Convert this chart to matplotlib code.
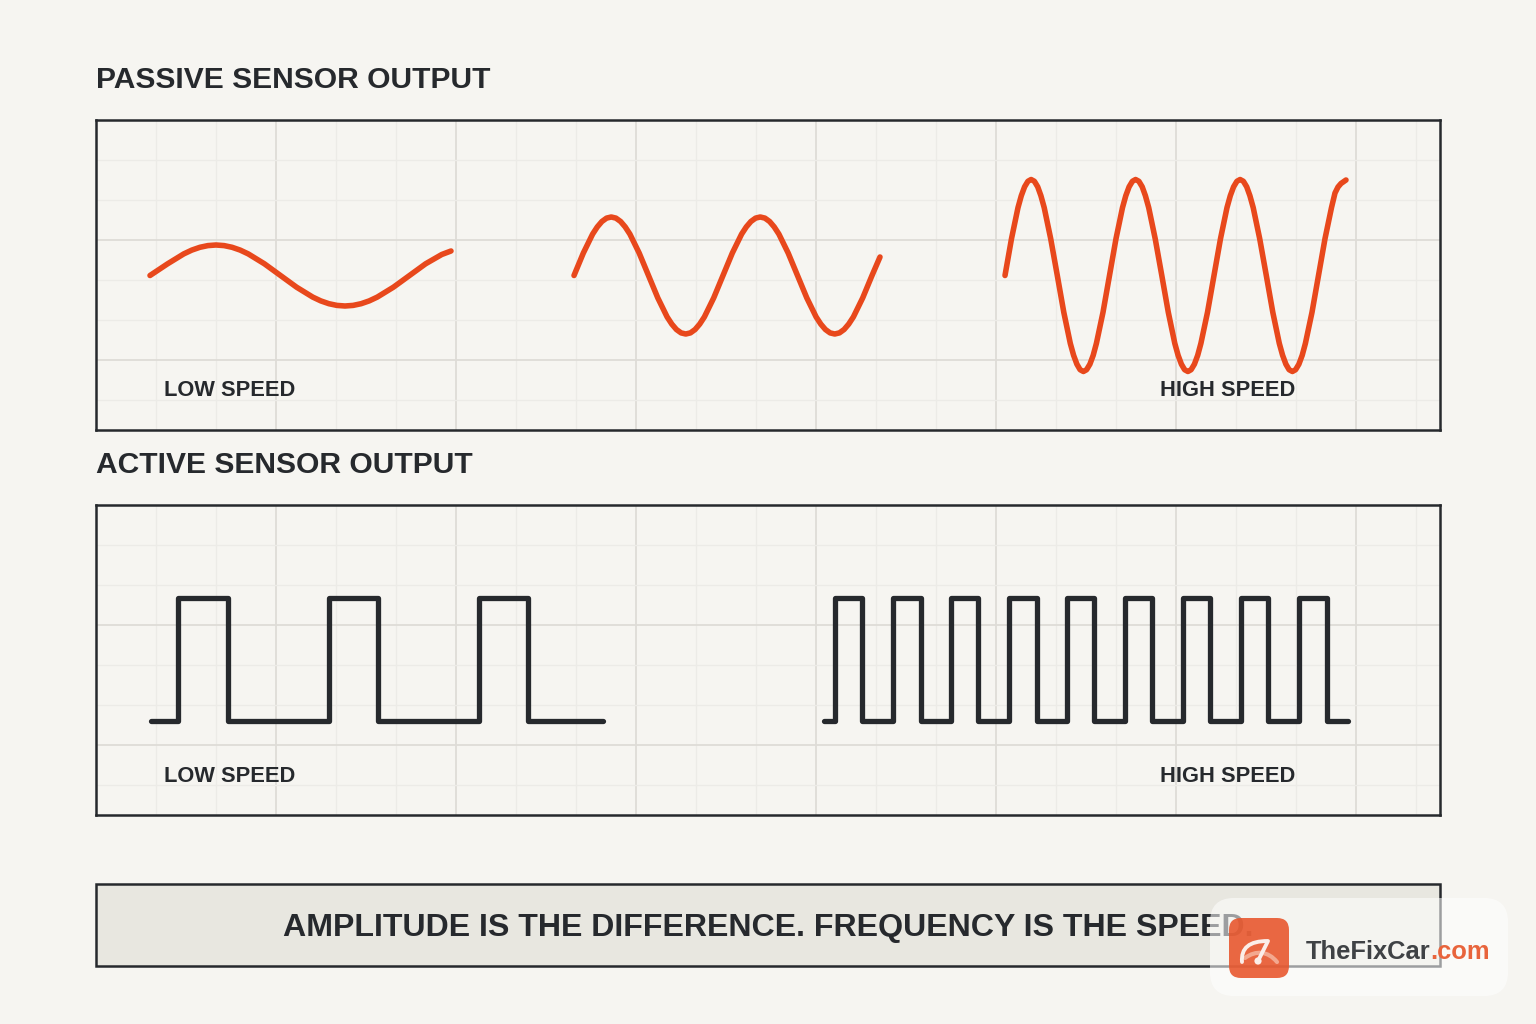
import matplotlib
matplotlib.use("Agg")
import matplotlib.pyplot as plt
from matplotlib.patches import FancyBboxPatch, PathPatch, Rectangle, Circle
from matplotlib.path import Path

plt.rcParams['font.family'] = ['Liberation Sans', 'DejaVu Sans']

BG = "#f6f5f1"
DARK = "#26292d"
ORANGE = "#e8481c"
W, H = 1536, 1024

# passive sensor traces (x px, y px)
low_x = [150, 167.6, 183.75, 191.8, 199.9, 207.9, 216, 224.1, 232.1, 240.2, 248.25, 264.4, 280.5, 296.6,
         312.75, 320.8, 328.9, 336.9, 345, 353.1, 361.1, 369.2, 377.25, 393.4, 409.5, 425.6, 441.75, 451]
low_y = [275.5, 263.8, 253.9, 250.1, 247.3, 245.6, 245, 245.6, 247.3, 250.1, 253.9, 263.8, 275.5, 287.2,
         297.1, 300.9, 303.7, 305.4, 306, 305.4, 303.7, 300.9, 297.1, 287.2, 275.5, 263.8, 254.5, 251]

mid_x = [574, 583.3, 592.6, 597.3, 601.9, 606.6, 611.25, 615.9, 620.6, 625.2, 629.9, 639.2,
         648.5, 657.8, 667.1, 671.8, 676.4, 681.1, 685.75, 690.4, 695.1, 699.7, 704.4, 713.7,
         723, 732.3, 741.6, 746.3, 750.9, 755.6, 760.25, 764.9, 769.6, 774.2, 778.9, 788.2,
         797.5, 806.8, 816.1, 820.8, 825.4, 830.1, 834.75, 839.4, 844.1, 848.7, 853.4, 862.7,
         872, 880]
mid_y = [275.5, 253.1, 234.1, 226.9, 221.5, 218.1, 217, 218.1, 221.5, 226.9, 234.1, 253.1,
         275.5, 297.9, 316.9, 324.1, 329.5, 332.9, 334, 332.9, 329.5, 324.1, 316.9, 297.9,
         275.5, 253.1, 234.1, 226.9, 221.5, 218.1, 217, 218.1, 221.5, 226.9, 234.1, 253.1,
         275.5, 297.9, 316.9, 324.1, 329.5, 332.9, 334, 332.9, 329.5, 324.1, 316.9, 297.9,
         275.5, 257]

high_x = [1005, 1011.5, 1018, 1021.3, 1024.6, 1027.9, 1031.1, 1034.4, 1037.7, 1040.9, 1044.2, 1050.7,
          1057.3, 1063.8, 1070.3, 1073.6, 1076.9, 1080.1, 1083.4, 1086.6, 1089.9, 1093.2, 1096.4, 1103,
          1109.5, 1116, 1122.5, 1125.8, 1129.1, 1132.4, 1135.6, 1138.9, 1142.2, 1145.4, 1148.7, 1155.2,
          1161.8, 1168.3, 1174.8, 1178.1, 1181.4, 1184.6, 1187.9, 1191.1, 1194.4, 1197.7, 1200.9, 1207.5,
          1214, 1220.5, 1227, 1230.3, 1233.6, 1236.9, 1240.1, 1243.4, 1246.7, 1249.9, 1253.2, 1259.7,
          1266.3, 1272.8, 1279.3, 1282.6, 1285.9, 1289.1, 1292.4, 1295.6, 1298.9, 1302.2, 1305.4, 1312,
          1318.5, 1325, 1331.5, 1335, 1338, 1341, 1346]
high_y = [275.5, 238.7, 207.6, 195.7, 186.8, 181.3, 179.5, 181.3, 186.8, 195.7, 207.6, 238.7,
          275.5, 312.3, 343.4, 355.3, 364.2, 369.7, 371.5, 369.7, 364.2, 355.3, 343.4, 312.3,
          275.5, 238.7, 207.6, 195.7, 186.8, 181.3, 179.5, 181.3, 186.8, 195.7, 207.6, 238.7,
          275.5, 312.3, 343.4, 355.3, 364.2, 369.7, 371.5, 369.7, 364.2, 355.3, 343.4, 312.3,
          275.5, 238.7, 207.6, 195.7, 186.8, 181.3, 179.5, 181.3, 186.8, 195.7, 207.6, 238.7,
          275.5, 312.3, 343.4, 355.3, 364.2, 369.7, 371.5, 369.7, 364.2, 355.3, 343.4, 312.3,
          275.5, 238.7, 207.6, 193, 187, 183.5, 180]

# active sensor traces, edges of the square wave
pulse_low_x = [151, 178, 228, 329, 378, 479, 528, 603]
pulse_low_y = [721, 598, 721, 598, 721, 598, 721, 721]
pulse_high_x = [824, 835, 862, 893, 921, 951, 978, 1009, 1037, 1067, 1094, 1125, 1152, 1183, 1210, 1241,
                1268, 1299, 1327, 1348]
pulse_high_y = [721, 598, 721, 598, 721, 598, 721, 598, 721, 598, 721, 598, 721, 598, 721, 598,
                721, 598, 721, 721]

grid_x_major = [276, 456, 636, 816, 996, 1176, 1356]
grid_x_minor = [156, 216, 336, 396, 516, 576, 696, 756, 876, 936, 1056, 1116, 1236, 1296, 1416]
passive_y_major = [240, 360]
passive_y_minor = [160, 200, 280, 320, 400]
active_y_major = [625, 745]
active_y_minor = [545, 585, 665, 705, 785]

low_label = "LOW SPEED"
high_label = "HIGH SPEED"


def add_panel(top, bottom, y_major, y_minor):
    ax = fig.add_axes([96 / W, 1 - bottom / H, (1440 - 96) / W, (bottom - top) / H], zorder=2)
    ax.set_xlim(96, 1440)
    ax.set_ylim(bottom, top)
    ax.set_facecolor(BG)
    ax.set_xticks(grid_x_major)
    ax.set_yticks(y_major)
    ax.set_xticks(grid_x_minor, minor=True)
    ax.set_yticks(y_minor, minor=True)
    ax.grid(which='major', color="#dedcd7", lw=1.3)
    ax.grid(which='minor', color="#ecebe7", lw=1.0)
    ax.set_axisbelow(True)
    ax.tick_params(which='both', length=0, labelbottom=False, labelleft=False)
    for s in ax.spines.values():
        s.set_color(DARK)
        s.set_linewidth(1.8)
    return ax


fig = plt.figure(figsize=(W / 100, H / 100), dpi=100, facecolor=BG)

top_ax = add_panel(120, 430, passive_y_major, passive_y_minor)
for xs, ys in [(low_x, low_y), (mid_x, mid_y), (high_x, high_y)]:
    top_ax.plot(xs, ys, color=ORANGE, lw=4.0, solid_capstyle='round', solid_joinstyle='round')
top_ax.text(164, 396, low_label, fontsize=15.75, fontweight='bold', color=DARK)
top_ax.text(1160, 396, high_label, fontsize=15.75, fontweight='bold', color=DARK)

bot_ax = add_panel(505, 815, active_y_major, active_y_minor)
for xs, ys in [(pulse_low_x, pulse_low_y), (pulse_high_x, pulse_high_y)]:
    bot_ax.step(xs, ys, where='post', color=DARK, lw=3.8, solid_capstyle='round', solid_joinstyle='round')
bot_ax.text(164, 782, low_label, fontsize=15.75, fontweight='bold', color=DARK)
bot_ax.text(1160, 782, high_label, fontsize=15.75, fontweight='bold', color=DARK)

# titles, banner and logo live on a full page axes in pixel units
page = fig.add_axes([0, 0, 1, 1], zorder=3)
page.set_xlim(0, W)
page.set_ylim(H, 0)
page.axis('off')

page.text(96, 88, "PASSIVE SENSOR OUTPUT", fontsize=21.6, fontweight='bold', color=DARK)
page.text(96, 473, "ACTIVE SENSOR OUTPUT", fontsize=21.6, fontweight='bold', color=DARK)

page.add_patch(Rectangle((96, 884), 1344, 82, fc="#e8e7e0", ec=DARK, lw=1.8))
page.text(768, 936, "AMPLITUDE IS THE DIFFERENCE. FREQUENCY IS THE SPEED.", fontsize=23.1,
          fontweight='bold', color=DARK, ha='center')

# watermark sits on top of the banner text
page.add_patch(FancyBboxPatch((1210, 898), 298, 98, boxstyle="round,pad=0,rounding_size=24",
                              fc="#ffffff", ec="none", alpha=0.55, zorder=5))
page.add_patch(FancyBboxPatch((1229, 918), 60, 60, boxstyle="round,pad=0,rounding_size=12",
                              fc="#e8542a", ec="none", alpha=0.88, zorder=6))
page.add_patch(PathPatch(Path([(1245, 958), (1256, 950), (1268, 951), (1277, 962)],
                              [Path.MOVETO, Path.CURVE4, Path.CURVE4, Path.CURVE4]),
                         fc="none", ec="#f3a88f", lw=3.0, capstyle='round', zorder=7))
page.add_patch(PathPatch(Path([(1242, 962), (1241, 948), (1249, 941), (1268, 941), (1258, 961)],
                              [Path.MOVETO, Path.CURVE4, Path.CURVE4, Path.CURVE4, Path.LINETO]),
                         fc="none", ec="#fbeee9", lw=2.8, capstyle='round', joinstyle='round', zorder=8))
page.add_patch(Circle((1258, 961), 3.6, fc="#fbeee9", ec="none", zorder=8))
brand = page.text(1306, 959, "TheFixCar", fontsize=18.4, fontweight='bold', color="#3f4245", zorder=8)
fig.canvas.draw()
brand_end = brand.get_window_extent().x1
page.text(brand_end, 959, ".com", fontsize=18.4, fontweight='bold', color="#e8643c", zorder=8)

fig.savefig("out.png", dpi=100, facecolor=BG)
